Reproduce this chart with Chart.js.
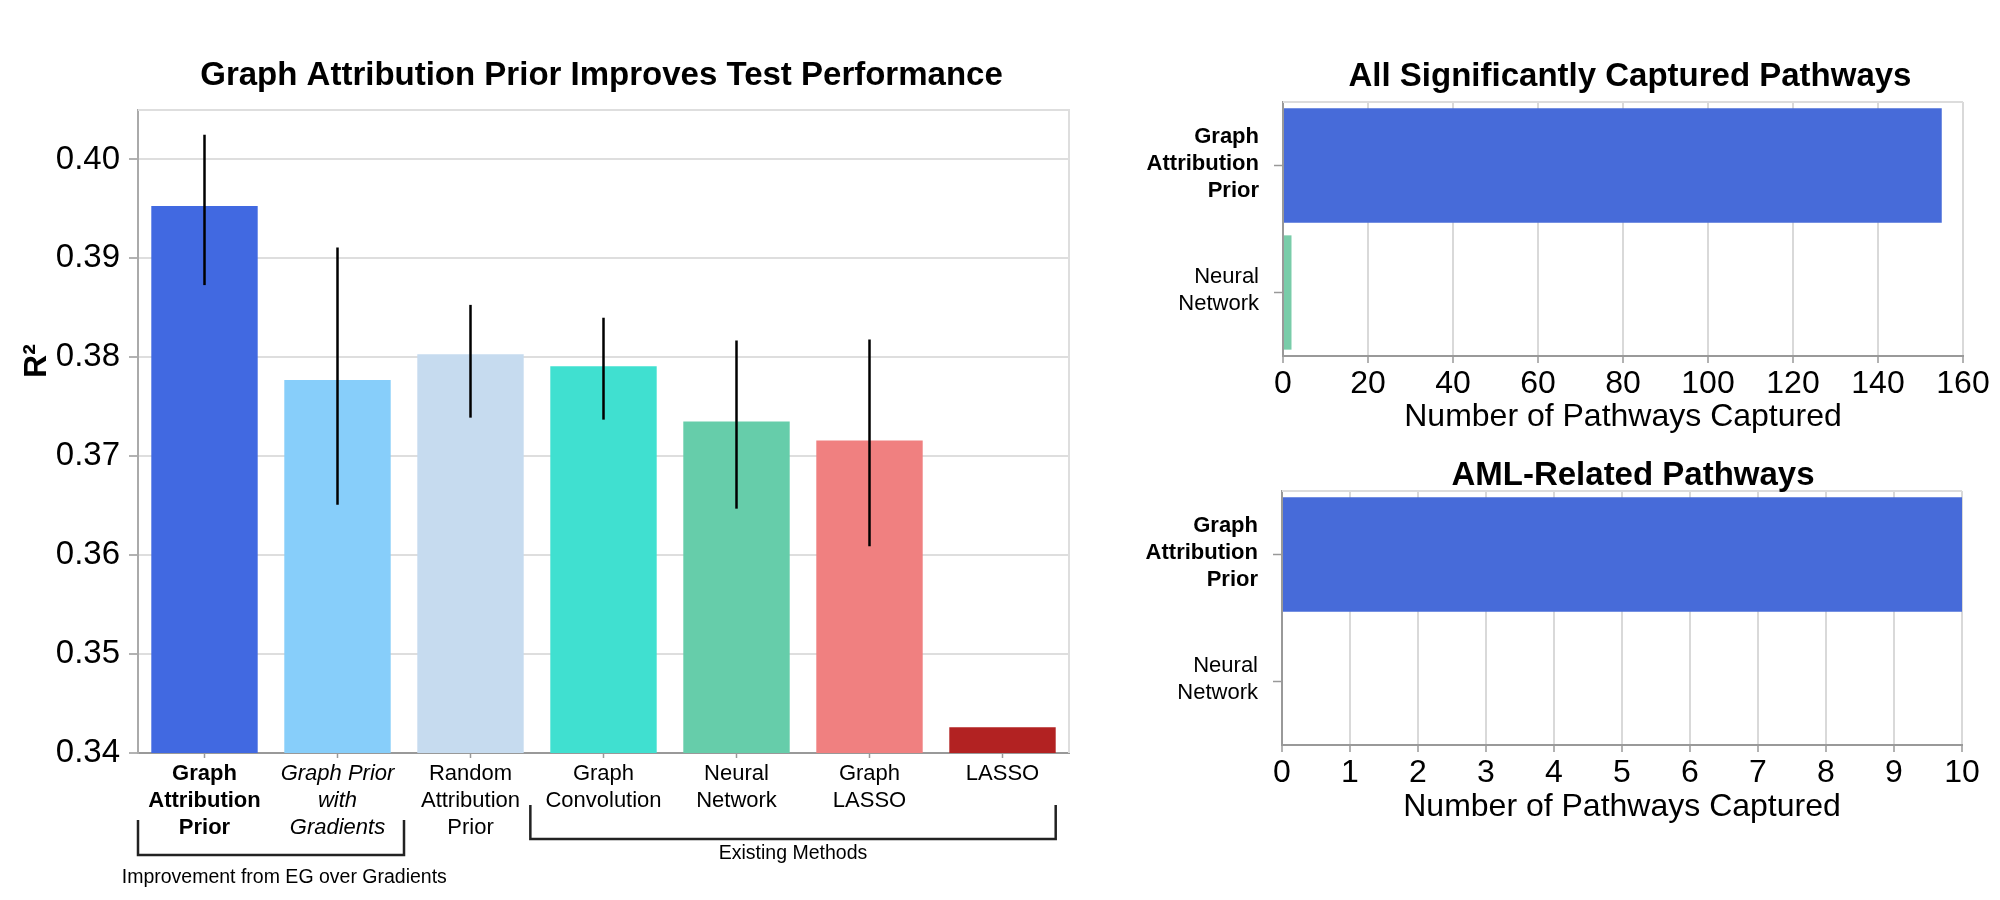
<!DOCTYPE html>
<html><head><meta charset="utf-8">
<script src="https://cdn.jsdelivr.net/npm/chart.js@4.4.1/dist/chart.umd.min.js"></script>
<style>
html,body{margin:0;padding:0;background:#fff;width:2000px;height:900px;overflow:hidden}
canvas{position:absolute;left:0;top:0}
</style></head><body>
<canvas id="c1" width="2000" height="900"></canvas>
<canvas id="c2" width="2000" height="900"></canvas>
<canvas id="c3" width="2000" height="900"></canvas>
<script>
const FONT = '"Liberation Sans", Arial, Helvetica, sans-serif';

// ---- Left chart data ----
const methods = [['Graph','Attribution','Prior'], ['Graph Prior','with','Gradients'], ['Random','Attribution','Prior'], ['Graph','Convolution'], ['Neural','Network'], ['Graph','LASSO'], 'LASSO'];
const r2Values = [0.3953, 0.3777, 0.3803, 0.3791, 0.3735, 0.3716, 0.3426];
const r2ErrLow = [0.3873, 0.3651, 0.3739, 0.3737, 0.3647, 0.3609, null];
const r2ErrHigh = [0.4025, 0.3911, 0.3853, 0.3840, 0.3817, 0.3818, null];
const methodColors = ['#4169E1', '#87CEFA', '#C6DBEF', '#40E0D0', '#66CDAA', '#F08080', '#B22222'];
const r2Ticks = [0.34, 0.35, 0.36, 0.37, 0.38, 0.39, 0.40];
const r2Min = 0.34, r2Max = 0.405;

// ---- Right chart data ----
const pathwayMethods = [['Graph','Attribution','Prior'], ['Neural','Network']];
const allPathways = [155, 2];
const amlPathways = [10, 0];
const pathwayColors = ['#476BD9', '#79CCA9'];
const allTicks = [0, 20, 40, 60, 80, 100, 120, 140, 160];
const amlTicks = [0, 1, 2, 3, 4, 5, 6, 7, 8, 9, 10];

Chart.defaults.font.family = FONT;
Chart.defaults.color = '#000';

const leftDecor = {
  id: 'leftDecor',
  beforeDatasetsDraw(chart) {
    const {ctx, chartArea: a} = chart;
    ctx.save();
    ctx.strokeStyle = '#dedede'; ctx.lineWidth = 2;
    ctx.beginPath(); ctx.moveTo(a.left, a.top); ctx.lineTo(a.right, a.top); ctx.lineTo(a.right, a.bottom); ctx.stroke();
    ctx.restore();
  },
  afterDatasetsDraw(chart) {
    const {ctx} = chart;
    const ys = chart.scales.y;
    const meta = chart.getDatasetMeta(0);
    ctx.save();
    ctx.strokeStyle = '#000'; ctx.lineWidth = 2.5;
    meta.data.forEach((bar, i) => {
      if (r2ErrLow[i] == null || r2ErrHigh[i] == null) return;
      ctx.beginPath();
      ctx.moveTo(bar.x, ys.getPixelForValue(r2ErrHigh[i]));
      ctx.lineTo(bar.x, ys.getPixelForValue(r2ErrLow[i]));
      ctx.stroke();
    });
    ctx.restore();
  },
  afterDraw(chart) {
    const {ctx, chartArea: a} = chart;
    const xs = chart.scales.x;
    const px = v => xs.getPixelForValue(v);
    ctx.save();
    ctx.fillStyle = '#000';
    ctx.font = 'bold 33px ' + FONT;
    ctx.textAlign = 'center'; ctx.textBaseline = 'alphabetic';
    ctx.fillText('Graph Attribution Prior Improves Test Performance', (a.left + a.right) / 2 - 2, 85);
    // y axis title
    ctx.save();
    ctx.translate(37, 361); ctx.rotate(-Math.PI / 2);
    ctx.font = 'bold 32px ' + FONT; ctx.textBaseline = 'middle';
    ctx.fillText('R\u00B2', 0, 0);
    ctx.restore();
    // brackets
    const b = a.bottom;
    ctx.strokeStyle = '#222'; ctx.lineWidth = 2.5;
    ctx.beginPath();
    ctx.moveTo(px(-0.5), b + 67); ctx.lineTo(px(-0.5), b + 102); ctx.lineTo(px(1.5), b + 102); ctx.lineTo(px(1.5), b + 67);
    ctx.stroke();
    ctx.beginPath();
    ctx.moveTo(px(2.45), b + 52); ctx.lineTo(px(2.45), b + 86); ctx.lineTo(px(6.4), b + 86); ctx.lineTo(px(6.4), b + 52);
    ctx.stroke();
    ctx.font = '19.5px ' + FONT; ctx.textBaseline = 'middle';
    ctx.fillText('Improvement from EG over Gradients', px(0.6), b + 125);
    ctx.fillText('Existing Methods', (px(2.45) + px(6.4)) / 2, b + 101);
    ctx.restore();
  }
};

new Chart(document.getElementById('c1'), {
  type: 'bar',
  data: { labels: methods, datasets: [{ data: r2Values, backgroundColor: methodColors, borderWidth: 0, barPercentage: 0.8, categoryPercentage: 1.0 }] },
  options: {
    responsive: false, animation: false, devicePixelRatio: 1,
    layout: { padding: { left: 0, top: 110, right: 931, bottom: 0 } },
    plugins: { legend: { display: false }, tooltip: { enabled: false }, title: { display: false } },
    scales: {
      x: {
        z: 1,
        grid: { offset: false, drawOnChartArea: false, tickLength: 5, tickColor: '#999', tickWidth: 1.5 },
        border: { color: '#999', width: 2 },
        ticks: { color: '#000', padding: 2, maxRotation: 0, minRotation: 0, autoSkip: false,
          font: (c) => ({ family: FONT, size: 22, lineHeight: 1.23, weight: c.index === 0 ? 'bold' : 'normal', style: c.index === 1 ? 'italic' : 'normal' }) },
        afterFit: (s) => { s.height = 147; }
      },
      y: {
        min: r2Min, max: r2Max,
        afterBuildTicks: (s) => { s.ticks = r2Ticks.map(v => ({ value: v })); },
        grid: { color: '#dedede', lineWidth: 2, tickLength: 9, tickColor: '#999', tickWidth: 1.5 },
        border: { color: '#aaa', width: 2 },
        ticks: { color: '#000', padding: 9, font: { family: FONT, size: 33 }, callback: v => Number(v).toFixed(2) },
        afterFit: (s) => { s.width = 138; }
      }
    }
  },
  plugins: [leftDecor]
});

function rightDecor(title, baseline, dx) {
  return {
    id: 'rightDecor',
    beforeDatasetsDraw(chart) {
      const {ctx, chartArea: a} = chart;
      ctx.save();
      ctx.strokeStyle = '#dcdcdc'; ctx.lineWidth = 2;
      ctx.beginPath(); ctx.moveTo(a.left, a.top); ctx.lineTo(a.right, a.top); ctx.stroke();
      ctx.restore();
    },
    afterDraw(chart) {
      const {ctx, chartArea: a} = chart;
      ctx.save();
      ctx.fillStyle = '#000';
      ctx.font = 'bold 33px ' + FONT;
      ctx.textAlign = 'center'; ctx.textBaseline = 'alphabetic';
      ctx.fillText(title, (a.left + a.right) / 2 + dx, baseline);
      ctx.restore();
    }
  };
}

function pathwayChart(id, values, ticks, max, padding, yWidth, xHeight, title, baseline, dx) {
  return new Chart(document.getElementById(id), {
    type: 'bar',
    data: { labels: pathwayMethods, datasets: [{ data: values, backgroundColor: pathwayColors, borderWidth: 0, barPercentage: 0.9, categoryPercentage: 1.0 }] },
    options: {
      indexAxis: 'y', responsive: false, animation: false, devicePixelRatio: 1,
      layout: { padding },
      plugins: { legend: { display: false }, tooltip: { enabled: false }, title: { display: false } },
      scales: {
        x: {
          min: 0, max,
          afterBuildTicks: (s) => { s.ticks = ticks.map(v => ({ value: v })); },
          grid: { color: '#d9d9d9', lineWidth: 2, tickLength: 7, tickColor: '#999', tickWidth: 1.5 },
          border: { color: '#999', width: 2 },
          ticks: { color: '#000', padding: 2, maxRotation: 0, autoSkip: false, font: { family: FONT, size: 32 } },
          title: { display: true, text: 'Number of Pathways Captured', color: '#000', font: { family: FONT, size: 32 }, padding: { top: 0, bottom: 0 } },
          afterFit: (s) => { s.height = xHeight; }
        },
        y: {
          grid: { offset: false, drawOnChartArea: false, tickLength: 9, tickColor: '#999', tickWidth: 1.5 },
          border: { color: '#999', width: 2 },
          ticks: { color: '#000', padding: 15, autoSkip: false, labelOffset: -2,
            font: (c) => ({ family: FONT, size: 22, lineHeight: 1.23, weight: c.index === 0 ? 'bold' : 'normal' }) },
          afterFit: (s) => { s.width = yWidth; }
        }
      }
    },
    plugins: [rightDecor(title, baseline, dx)]
  });
}

pathwayChart('c2', allPathways, allTicks, 160, { left: 0, top: 102, right: 37, bottom: 464 }, 1283, 80, 'All Significantly Captured Pathways', 86, 7);
pathwayChart('c3', amlPathways, amlTicks, 10, { left: 0, top: 491, right: 38, bottom: 74 }, 1282, 81, 'AML-Related Pathways', 485, 11);
</script>
</body></html>
